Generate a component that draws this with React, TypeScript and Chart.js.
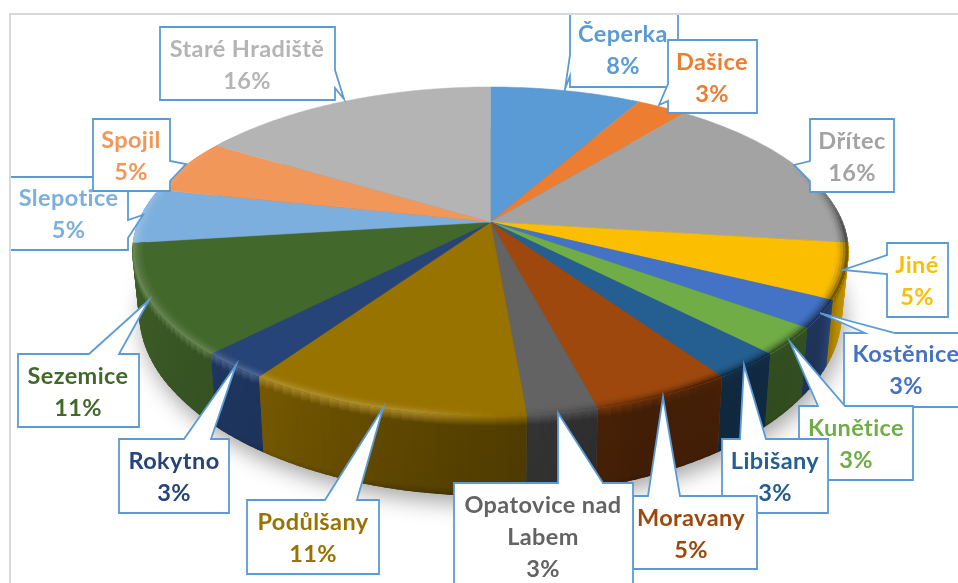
import React, { useEffect, useRef } from "react";
import { Chart, registerables } from "chart.js";

Chart.register(...registerables);

const categories = ["Čeperka", "Dašice", "Dřítec", "Jiné", "Kostěnice", "Kunětice", "Libišany", "Moravany", "Opatovice nad\nLabem", "Podůlšany", "Rokytno", "Sezemice", "Slepotice", "Spojil", "Staré Hradiště"];
const counts = [3, 1, 6, 2, 1, 1, 1, 2, 1, 4, 1, 4, 2, 2, 6];
const sliceColors = ["#5B9BD5", "#ED7D31", "#A3A3A3", "#FCBE00", "#4472C4", "#70AD47", "#255E91", "#9E480E", "#636363", "#997300", "#264478", "#43682B", "#7CAFDD", "#F1975A", "#B4B4B4"];

type Pt = [number, number];
const calloutText: Pt[] = [
  [623, 42], [712, 70], [852, 149], [917, 273], [906, 362], [856, 436], [775, 469], [691, 526], [543, 513], [313, 530], [174, 469], [78, 384], [68.5, 206], [131, 148], [247, 57],
];
const calloutOutlines: Pt[][] = [
  [[570, 5], [678, 5], [678, 87], [570, 87], [570, 76], [565, 89], [570, 55]],
  [[668, 40], [757, 40], [757, 113], [668, 113], [668, 101], [659, 105], [668, 84]],
  [[810, 119], [894, 119], [894, 192], [810, 192], [810, 181], [794, 165], [810, 161]],
  [[887, 243], [948, 243], [948, 317], [887, 317], [887, 274], [843, 270], [887, 255]],
  [[844, 333], [865, 333], [820, 313], [895, 333], [965, 333], [965, 407], [844, 407]],
  [[799, 406], [818, 406], [790, 342], [845, 406], [913, 406], [913, 480], [799, 480]],
  [[722, 439], [740, 439], [744, 365], [766, 439], [828, 439], [828, 513], [722, 513]],
  [[633, 496], [648, 496], [663, 397], [680, 496], [757, 496], [757, 569], [633, 569]],
  [[454, 483], [558, 483], [558, 413], [603, 483], [633, 483], [633, 600], [454, 600]],
  [[247, 500], [325, 500], [383, 408], [357, 500], [379, 500], [379, 574], [247, 574]],
  [[119, 439], [184, 439], [236, 365], [211, 439], [229, 439], [229, 513], [119, 513]],
  [[18, 354], [89, 354], [149, 300], [119, 354], [139, 354], [139, 427], [18, 427]],
  [[5, 177], [128, 177], [128, 220], [143, 215], [128, 238], [128, 250], [5, 250]],
  [[93, 119], [170, 119], [170, 161], [186, 164], [170, 181], [170, 191], [93, 191]],
  [[160, 27], [335, 27], [335, 70], [344, 99], [335, 88], [335, 100], [160, 100]],
];

// Perspective of the pie's top and bottom discs.
const CX = 490.5;
const P = 0.179;
const TOP = { a: 352, b: 159.2, cy: 222 };
const BOTTOM = { a: 345.4, b: 178.1, cy: 279 };
const project = (disc: typeof TOP, th: number, r = 1): Pt => {
  const u = r * Math.sin(th);
  const v = -r * Math.cos(th);
  const w = 1 - P * v;
  return [CX + (disc.a * u) / w, disc.cy + (disc.b * v) / w];
};

const D = Math.PI / 180;
const interp = (table: number[][], deg: number) => {
  const x = ((deg % 360) + 360) % 360;
  for (let i = 1; i < table.length; i++) {
    if (x <= table[i][0]) {
      const [x0, y0] = table[i - 1];
      const [x1, y1] = table[i];
      return y0 + ((y1 - y0) * (x - x0)) / (x1 - x0);
    }
  }
  return table[table.length - 1][1];
};
const rimTable = [[0, 0], [68, 0], [92, -0.5], [110, -0.55], [150, -0.5], [172, -0.12], [190, 0.18], [235, 0.18], [265, 0.2], [285, 0.1], [305, 0], [360, 0]];
const wallTable = [[0, 0.9], [100, 0.85], [113, 0.72], [122, 0.46], [160, 0.42], [172, 0.5], [190, 0.6], [212, 0.76], [240, 0.85], [270, 0.95], [360, 0.95]];

const rgb = (hex: string) => [1, 3, 5].map((i) => parseInt(hex.slice(i, i + 2), 16));
const css = (c: number[]) => `rgb(${c.map((n) => Math.round(n)).join(",")})`;
const mix = (c: number[], d: number[], t: number) => c.map((n, i) => n + (d[i] - n) * t);
const rimColor = (c: number[], deg: number, t: number) => {
  const s = interp(rimTable, deg) * t;
  return s >= 0 ? mix(c, [255, 255, 255], s) : mix(c, [0, 0, 0], -s);
};

const pie3d = {
  id: "pie3d",
  beforeDatasetsDraw(chart: any) {
    const ctx: any = chart.ctx;
    const arcs = chart.getDatasetMeta(0).data.map((a: any, i: number) => ({
      start: a.startAngle + Math.PI / 2,
      end: a.endAngle + Math.PI / 2,
      color: rgb(sliceColors[i]),
    }));
    const total = counts.reduce((s, n) => s + n, 0);

    ctx.save();
    ctx.lineJoin = "round";

    // frame
    ctx.strokeStyle = "#d9d9d9";
    ctx.lineWidth = 2;
    ctx.beginPath();
    ctx.moveTo(10, 583);
    ctx.lineTo(10, 14);
    ctx.lineTo(958, 14);
    ctx.stroke();

    // soft shadow below the disc
    ctx.save();
    ctx.shadowColor = "rgba(0,0,0,0.36)";
    ctx.shadowBlur = 22;
    ctx.shadowOffsetX = 3;
    ctx.shadowOffsetY = 8;
    ctx.fillStyle = "#555";
    ctx.beginPath();
    for (let d = 0; d < 360; d += 2) {
      const [x, y] = project(BOTTOM, d * D);
      d === 0 ? ctx.moveTo(x, y) : ctx.lineTo(x, y);
    }
    ctx.closePath();
    ctx.fill();
    ctx.restore();

    // walls, rear to front
    const segs: any[] = [];
    for (const arc of arcs) {
      const n = Math.max(2, Math.ceil((arc.end - arc.start) / (1.5 * D)));
      for (let i = 0; i < n; i++) {
        const t0 = arc.start + ((arc.end - arc.start) * i) / n;
        const t1 = arc.start + ((arc.end - arc.start) * (i + 1)) / n;
        segs.push({ t0, t1, color: arc.color, first: i === 0, last: i === n - 1 });
      }
    }
    const ordered = [...segs].sort((a, b) => -Math.cos((a.t0 + a.t1) / 2) - -Math.cos((b.t0 + b.t1) / 2));
    for (const s of ordered) {
      const mid = (s.t0 + s.t1) / 2;
      const front = -Math.cos(mid);
      if (front < -0.25) continue;
      const deg = mid / D;
      const t0 = s.t0 - (s.first ? 0 : 0.4 * D);
      const t1 = s.t1 + (s.last ? 0 : 0.4 * D);
      const a = project(TOP, t0);
      const b = project(TOP, t1);
      const c = project(BOTTOM, t1);
      const e = project(BOTTOM, t0);
      const wall = s.color.map((n: number) => n * interp(wallTable, deg));
      const foot = 1 - 0.22 * Math.max(0, front);
      const g = ctx.createLinearGradient(0, Math.min(a[1], b[1]), 0, Math.max(c[1], e[1]));
      g.addColorStop(0, css(rimColor(s.color, deg, 1)));
      g.addColorStop(0.13, css(wall));
      g.addColorStop(0.9, css(wall.map((n: number) => n * (0.97 + 0.03 * (1 - Math.max(0, front))))));
      g.addColorStop(1, css(wall.map((n: number) => n * foot)));
      ctx.fillStyle = g;
      ctx.beginPath();
      ctx.moveTo(a[0], a[1]);
      ctx.lineTo(b[0], b[1]);
      ctx.lineTo(c[0], c[1]);
      ctx.lineTo(e[0], e[1]);
      ctx.closePath();
      ctx.fill();
      // near the silhouette the quads are edge-on: thicken them so nothing shows through
      if (Math.abs(front) < 0.55) {
        ctx.strokeStyle = g;
        ctx.lineWidth = 1;
        ctx.stroke();
      }
    }

    // top surface
    for (const arc of arcs) {
      const n = Math.max(2, Math.ceil((arc.end - arc.start) / (1 * D)));
      ctx.beginPath();
      const apex = project(TOP, 0, 0);
      ctx.moveTo(apex[0], apex[1]);
      for (let i = 0; i <= n; i++) {
        const p = project(TOP, arc.start + ((arc.end - arc.start) * i) / n);
        ctx.lineTo(p[0], p[1]);
      }
      ctx.closePath();
      ctx.fillStyle = css(arc.color);
      ctx.strokeStyle = css(arc.color);
      ctx.lineWidth = 0.5;
      ctx.fill();
      ctx.stroke();
    }

    // bevel on the rim: inner rings first, each reaching out to the edge
    const RINGS = [0.965, 0.972, 0.979, 0.986, 0.993];
    RINGS.forEach((r0, k) => {
      const tt = (k + 1) / RINGS.length;
      for (const s of segs) {
        const deg = ((s.t0 + s.t1) / 2) / D;
        if (Math.abs(interp(rimTable, deg)) < 0.005) continue;
        const over = s.last ? 0 : 0.4 * D;
        const a = project(TOP, s.t0, r0);
        const b = project(TOP, s.t1 + over, r0);
        const c = project(TOP, s.t1 + over, 1);
        const e = project(TOP, s.t0, 1);
        ctx.fillStyle = css(rimColor(s.color, deg, tt * tt));
        ctx.beginPath();
        ctx.moveTo(a[0], a[1]);
        ctx.lineTo(b[0], b[1]);
        ctx.lineTo(c[0], c[1]);
        ctx.lineTo(e[0], e[1]);
        ctx.closePath();
        ctx.fill();
      }
    });

    // callouts
    ctx.beginPath();
    ctx.rect(11, 15, 947, 568);
    ctx.clip();
    categories.forEach((name, i) => {
      const outline = calloutOutlines[i];
      ctx.beginPath();
      outline.forEach(([x, y], j) => (j === 0 ? ctx.moveTo(x, y) : ctx.lineTo(x, y)));
      ctx.closePath();
      ctx.fillStyle = "#ffffff";
      ctx.fill();
      ctx.strokeStyle = "#5B9BD5";
      ctx.lineWidth = 1.8;
      ctx.lineJoin = "miter";
      ctx.stroke();
      const lines = [...name.split("\n"), `${Math.round((counts[i] / total) * 100)}%`];
      const [tx, ty] = calloutText[i];
      ctx.font = "bold 23.5px Lato, 'Open Sans', sans-serif";
      ctx.letterSpacing = "0.4px";
      ctx.textAlign = "center";
      ctx.textBaseline = "alphabetic";
      ctx.fillStyle = sliceColors[i];
      lines.forEach((line, k) => ctx.fillText(line, tx, ty + k * 32));
    });
    ctx.restore();
    return false;
  },
};

export default function App() {
  const ref = useRef<HTMLCanvasElement>(null);
  useEffect(() => {
    const chart = new Chart(ref.current!, {
      type: "pie",
      data: {
        labels: categories,
        datasets: [{ data: counts, backgroundColor: sliceColors }],
      },
      options: {
        responsive: false,
        animation: false,
        plugins: { legend: { display: false }, tooltip: { enabled: false } },
      },
      plugins: [pie3d],
    } as any);
    return () => chart.destroy();
  }, []);
  return (
    <div style={{ position: "absolute", left: 0, top: 0, width: 958, height: 583, overflow: "hidden", background: "#fff" }}>
      <canvas ref={ref} width={958} height={583} style={{ display: "block" }} />
    </div>
  );
}
